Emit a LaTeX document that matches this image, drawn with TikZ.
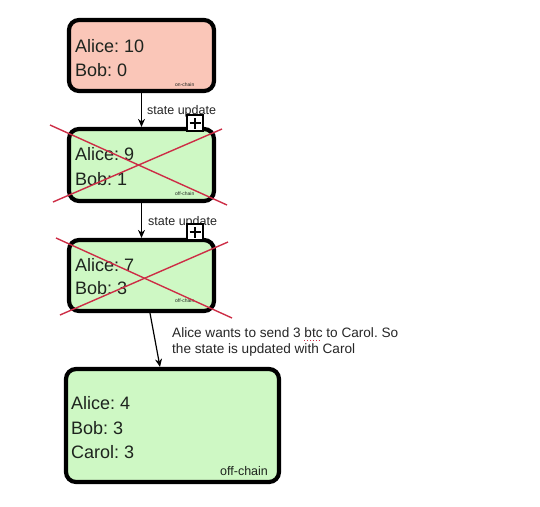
\documentclass[tikz,border=0pt]{standalone}
\usepackage{fontspec}
\setmainfont{Liberation Sans}
\frenchspacing
\usetikzlibrary{arrows.meta}
\definecolor{onfill}{RGB}{250,198,184}
\definecolor{offfill}{RGB}{206,248,196}
\definecolor{crossred}{RGB}{205,45,70}
\definecolor{txt}{RGB}{30,36,30}
\tikzset{
  statebox/.style={draw=black, line width=4.2pt, rounded corners=10pt, inner sep=0pt},
  bigtxt/.style={anchor=base west, inner sep=0pt, text=txt, font=\fontsize{18}{20}\selectfont},
  tinytxt/.style={anchor=base west, inner sep=0pt, text=txt, font=\fontsize{5}{6}\selectfont},
  lbl/.style={anchor=base west, inner sep=0pt, text=black!85, font=\fontsize{12.5}{15}\selectfont},
  flow/.style={draw=black, line width=1.2pt, -{Stealth[length=8pt,width=7pt]}},
  cross/.style={draw=crossred, line width=1.4pt},
  plusbox/.style={draw=black, fill=white, line width=1.1pt, minimum size=16pt, inner sep=0pt},
}
\begin{document}
\begin{tikzpicture}[x=1pt,y=-1pt]
\useasboundingbox (0,0) rectangle (540,506);
% boxes
\node[statebox, fill=onfill, minimum width=145pt, minimum height=71pt] (b1) at (141.5,55.5) {};
\node[statebox, fill=offfill, minimum width=145pt, minimum height=72pt] (b2) at (141.5,165) {};
\node[statebox, fill=offfill, minimum width=145pt, minimum height=71pt] (b3) at (141.5,275.5) {};
\node[statebox, fill=offfill, minimum width=213pt, minimum height=113pt] (b4) at (172.5,425.5) {};
% box texts
\node[bigtxt] (t1a) at (75,52) {Alice: 10};
\node[bigtxt] (t1b) at (75,76) {Bob: 0};
\node[tinytxt] (t1c) at (175,86) {on-chain};
\node[bigtxt] (t2a) at (75,160) {Alice: 9};
\node[bigtxt] (t2b) at (75,185) {Bob: 1};
\node[tinytxt] (t2c) at (175,195) {off-chain};
\node[bigtxt] (t3a) at (75,271) {Alice: 7};
\node[bigtxt] (t3b) at (75,294) {Bob: 3};
\node[tinytxt] (t3c) at (175,302) {off-chain};
\node[bigtxt] (t4a) at (71,409) {Alice: 4};
\node[bigtxt] (t4b) at (71,434) {Bob: 3};
\node[bigtxt] (t4c) at (71,458) {Carol: 3};
\node[anchor=base west, inner sep=0pt, text=txt, font=\fontsize{12.5}{14}\selectfont] (t4d) at (220,475) {off-chain};
% crosses
\coordinate (c2a) at (50,125); \coordinate (c2b) at (227,205);
\coordinate (c2c) at (53,202); \coordinate (c2d) at (222,129);
\coordinate (c3a) at (56,238); \coordinate (c3b) at (232,318);
\coordinate (c3c) at (60,315); \coordinate (c3d) at (228,242);
\draw[cross] (c2a) -- (c2b);
\draw[cross] (c2c) -- (c2d);
\draw[cross] (c3a) -- (c3b);
\draw[cross] (c3c) -- (c3d);
% arrows
\draw[flow] (b1.south) -- (b2.north);
\draw[flow] (b2.south) -- (b3.north);
\draw[flow] ([xshift=8.5pt]b3.south) -- ([xshift=-12.5pt]b4.north);
% labels
\node[lbl] (l1) at (147,114) {state update};
\node[lbl] (l2) at (148,225) {state update};
\node[anchor=base west, inner sep=0pt, text=black!85, font=\fontsize{13.6}{16}\selectfont] (l3a) at (172,337) {Alice wants to send 3 btc to Carol. So};
\node[anchor=base west, inner sep=0pt, text=black!85, font=\fontsize{13.6}{16}\selectfont] (l3b) at (172,353) {the state is updated with Carol};
\coordinate (u1) at (304,340); \coordinate (u2) at (321,340);
\draw[crossred, line width=0.9pt, dotted] (u1) -- (u2);
% plus boxes
\node[plusbox] (p1) at (195,123) {};
\draw[line width=1.3pt] ([xshift=-5.5pt]p1.center) -- ([xshift=5.5pt]p1.center)
  ([yshift=-5.5pt]p1.center) -- ([yshift=5.5pt]p1.center);
\node[plusbox] (p2) at (195,232) {};
\draw[line width=1.3pt] ([xshift=-5.5pt]p2.center) -- ([xshift=5.5pt]p2.center)
  ([yshift=-5.5pt]p2.center) -- ([yshift=5.5pt]p2.center);
\end{tikzpicture}
\end{document}
